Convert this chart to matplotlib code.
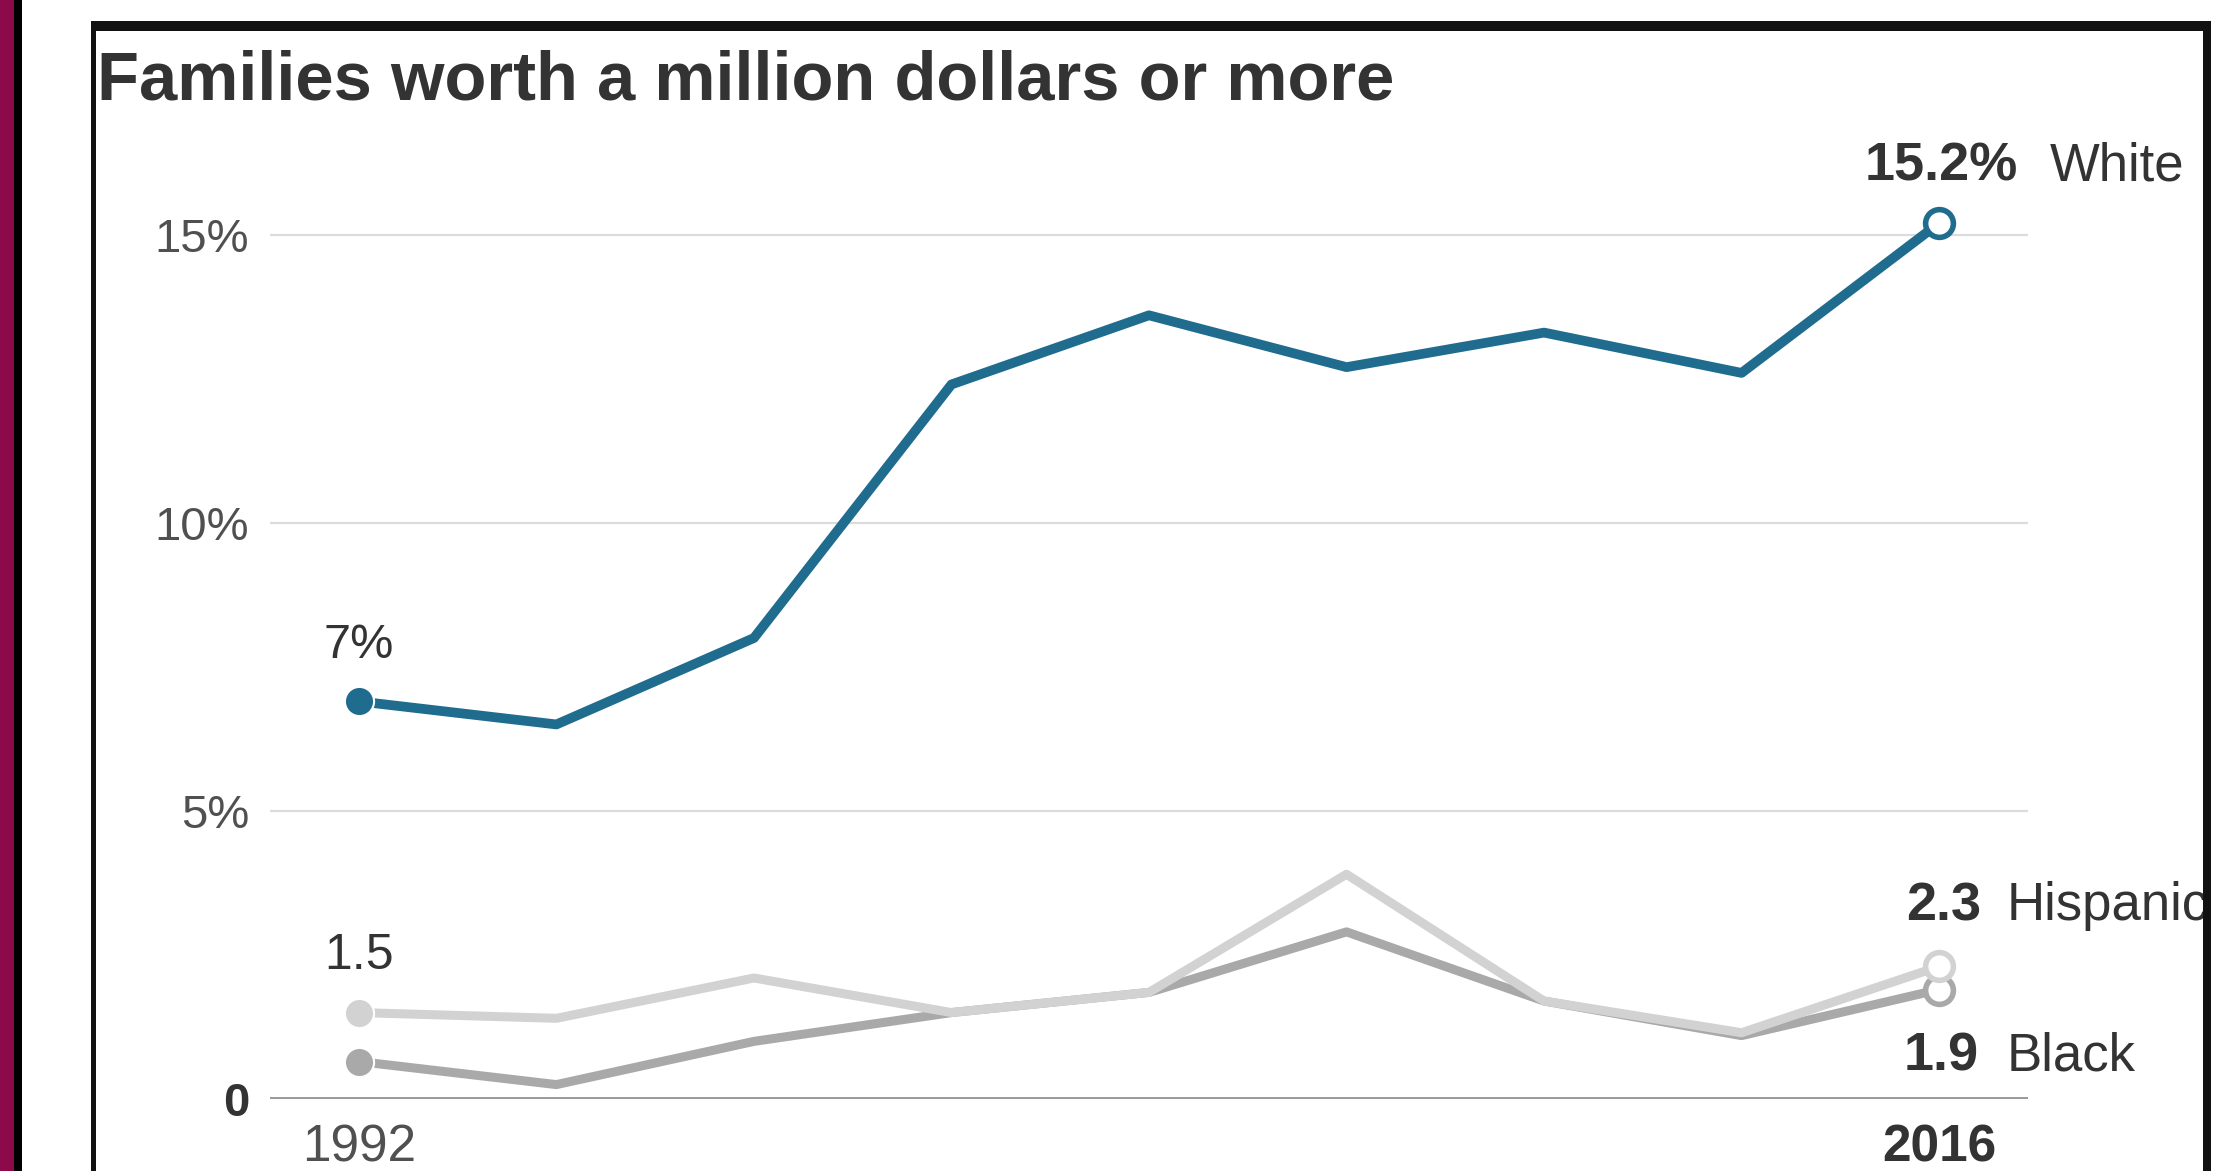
import matplotlib

matplotlib.use("Agg")
import matplotlib.pyplot as plt  # noqa: E402
from matplotlib.patches import Rectangle  # noqa: E402

plt.rcParams["font.family"] = ["Liberation Sans", "DejaVu Sans"]

# données (% des familles valant 1 M$ ou plus)
years = [1992, 1995, 1998, 2001, 2004, 2007, 2010, 2013, 2016]
white = [6.9, 6.5, 8.0, 12.4, 13.6, 12.7, 13.3, 12.6, 15.2]
hispanic = [1.5, 1.4, 2.1, 1.5, 1.85, 3.9, 1.7, 1.15, 2.3]
black = [0.65, 0.25, 1.0, 1.5, 1.85, 2.9, 1.7, 1.1, 1.9]
y_ticks = [0, 5, 10, 15]
y_labels = ["0", "5%", "10%", "15%"]
x_ticks = [1992, 2016]

BLUE = "#1f6c8e"
LIGHT = "#d2d2d2"
GREY = "#a9a9a9"
TXT = "#333333"
TICK = "#505050"

W, H = 2232, 1171
fig = plt.figure(figsize=(W / 100, H / 100), dpi=100)


def fx(px):
    return px / W


def fy(py):
    return 1 - py / H


# axes: ligne 0 à y=1099 px, 15% à 235 px ; grille de x=270 à 2028 px
ax = fig.add_axes([fx(270), fy(1099), fx(2028) - fx(270), (1099 - 177) / H])
ax.set_xlim(1990.65, 2017.35)
ax.set_ylim(0, 16)
for s in ax.spines.values():
    s.set_visible(False)

for t in y_ticks[1:]:
    ax.axhline(t, color="#dcdcdc", lw=1.6, zorder=1)
ax.axhline(0, color="#999999", lw=2.8, zorder=1)

ax.set_yticks(y_ticks)
ax.set_yticklabels(y_labels)
ax.set_xticks(x_ticks)
ax.set_xticklabels([str(x) for x in x_ticks])
ax.tick_params(axis="y", length=0, pad=15, labelsize=34, labelcolor=TICK)
ax.tick_params(axis="x", length=0, pad=18, labelsize=37, labelcolor=TICK)
ax.get_yticklabels()[0].set_fontweight("bold")
ax.get_yticklabels()[0].set_color(TXT)
ax.get_xticklabels()[1].set_fontweight("bold")
ax.get_xticklabels()[1].set_color(TXT)

ax.plot(years, black, color=GREY, lw=6.5, zorder=2)
ax.plot(years, hispanic, color=LIGHT, lw=6.5, zorder=3)
ax.plot(years, white, color=BLUE, lw=7, zorder=4)

for ser, c, z in [(black, GREY, 5), (hispanic, LIGHT, 6), (white, BLUE, 7)]:
    ax.plot(years[0], ser[0], "o", ms=21, color=c, mec="white", mew=1.5, zorder=z, clip_on=False)
    ax.plot(years[-1], ser[-1], "o", ms=20, mfc="white", mec=c, mew=4, zorder=z, clip_on=False)

kw = dict(textcoords="offset pixels", va="center", color=TXT, annotation_clip=False)
ax.annotate("7%", (years[0], white[0]), xytext=(0, 56), ha="center", fontsize=35, **kw)
ax.annotate("1.5", (years[0], hispanic[0]), xytext=(0, 57), ha="center", fontsize=36, **kw)

ax.annotate("15.2%", (years[-1], white[-1]), xytext=(79, 57), ha="right", fontsize=39, fontweight="bold", **kw)
ax.annotate("White", (years[-1], white[-1]), xytext=(111, 57), ha="left", fontsize=38, **kw)
ax.annotate("2.3", (years[-1], hispanic[-1]), xytext=(42, 60), ha="right", fontsize=39, fontweight="bold", **kw)
ax.annotate("Hispanic", (years[-1], hispanic[-1]), xytext=(68, 60), ha="left", fontsize=38, **kw)
ax.annotate("1.9", (years[-1], black[-1]), xytext=(40, -67), ha="right", fontsize=39, fontweight="bold", **kw)
ax.annotate("Black", (years[-1], black[-1]), xytext=(68, -67), ha="left", fontsize=38, **kw)

fig.text(fx(97), fy(100), "Families worth a million dollars or more", fontsize=49.5,
         fontweight="bold", color=TXT, va="baseline", ha="left")


def band(x0, y0, x1, y1, color):
    fig.patches.append(Rectangle((fx(x0), fy(y1)), fx(x1) - fx(x0), fy(y0) - fy(y1),
                                 transform=fig.transFigure, color=color, zorder=20, lw=0))


# cadre noir + bande bordeaux
band(2211, 0, W, H, "white")
band(91, 21, 2211, 31, "#111111")
band(91, 21, 96, H, "#111111")
band(2203, 21, 2211, H, "#111111")
band(0, 0, 14, H, "#8c0a4a")
band(14, 0, 22, H, "#000000")

fig.savefig("out.png", dpi=100)
